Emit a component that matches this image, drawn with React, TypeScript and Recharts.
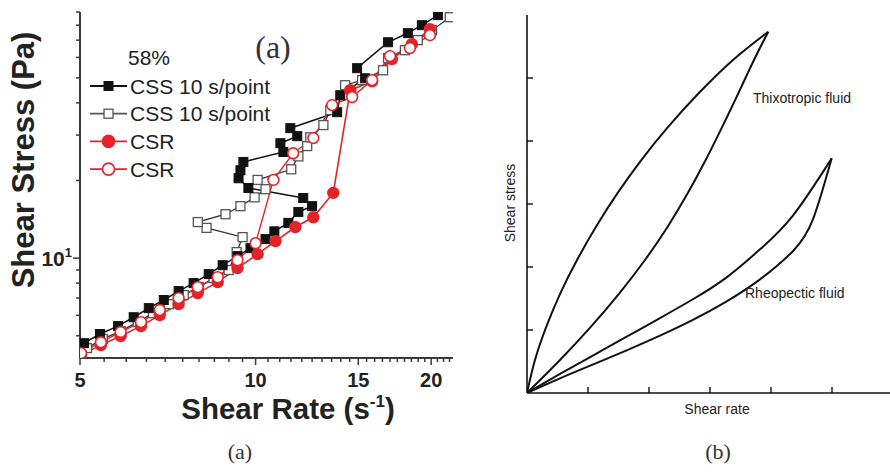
import React from "react";
import { LineChart, Line, XAxis, YAxis, Legend } from "recharts";

const SANS = "'Liberation Sans', Arial, Helvetica, sans-serif";
const SERIF = "'Liberation Serif', 'Times New Roman', serif";
const RED = "#e3232a";
const INK = "#222";
const FRAME = "#3a3a3a";

// ---- panel (a): shear stress vs shear rate, log-log ----
const cssFilledRate = [5.08, 5.41, 5.81, 6.18, 6.56, 6.96, 7.38, 7.83, 8.31, 8.78, 9.31, 9.8, 10.4, 10.77, 11.38, 11.84, 12.5, 12.07, 9.72, 9.35, 9.42, 9.53, 11.16, 11.03, 11.79, 11.47, 13.8, 13.97, 15.41, 14.93, 16.87, 18.24, 19.28, 20.55];
const cssFilledStress = [4.68, 5.08, 5.45, 5.9, 6.4, 6.88, 7.45, 8.0, 8.67, 9.39, 10.18, 10.93, 11.85, 12.7, 13.7, 15.1, 15.9, 17.1, 18.7, 20.4, 21.9, 23.6, 25.8, 27.9, 29.7, 31.9, 36.8, 42.8, 49.8, 54.5, 68.7, 74.5, 80.0, 87.5];

const cssOpenRate = [5.14, 5.47, 5.87, 6.28, 6.67, 7.1, 7.53, 7.99, 8.47, 8.99, 9.28, 9.5, 8.24, 7.96, 8.88, 9.42, 9.96, 10.4, 10.08, 11.51, 11.84, 12.26, 12.41, 13.07, 13.43, 14.24, 15.23, 16.54, 16.87, 18.03, 18.97, 20.07, 21.53];
const cssOpenStress = [4.48, 4.86, 5.21, 5.65, 6.12, 6.63, 7.19, 7.72, 8.37, 8.99, 10.55, 12.06, 13.1, 13.8, 14.8, 15.9, 17.2, 18.5, 20.1, 22.1, 24.8, 27.2, 29.4, 32.8, 37.5, 46.8, 49.0, 53.5, 59.6, 64.0, 70.0, 76.5, 85.9];

const csrFilledRate = [5.02, 5.43, 5.87, 6.36, 6.85, 7.38, 7.96, 8.61, 9.31, 10.08, 10.82, 11.7, 12.56, 13.59, 14.53, 15.84, 17.13, 18.53, 19.9];
const csrFilledStress = [4.21, 4.6, 4.99, 5.45, 6.01, 6.63, 7.32, 8.07, 9.15, 10.36, 11.64, 13.2, 14.4, 17.9, 44.8, 48.5, 59.1, 67.5, 77.2];

const csrOpenRate = [5.02, 5.43, 5.87, 6.36, 6.85, 7.38, 7.96, 8.61, 9.31, 10.0, 10.73, 11.6, 12.56, 13.53, 14.64, 15.84, 17.0, 18.39, 19.9];
const csrOpenStress = [4.28, 4.72, 5.17, 5.65, 6.29, 7.0, 7.72, 8.44, 9.82, 11.43, 20.1, 25.5, 29.2, 39.2, 42.1, 49.0, 60.7, 65.2, 73.2];

const rateTicks = [5, 5.5, 6, 6.5, 7, 7.5, 8, 8.5, 9, 9.5, 10, 10.5, 11, 11.5, 12, 12.5, 13, 13.5, 14, 14.5, 15, 15.5, 16, 16.5, 17, 17.5, 18, 18.5, 19, 19.5, 20, 20.5, 21, 21.5];
const rateLabels = [5, 10, 15, 20];
const stressTicks = [5, 6, 7, 8, 9, 10, 20, 30, 40, 50, 60, 70, 80, 90];

const legendTitle = "58%";
const legendRows = [
  { label: "CSS 10 s/point", shape: "square", filled: true },
  { label: "CSS 10 s/point", shape: "square", filled: false },
  { label: "CSR", shape: "circle", filled: true },
  { label: "CSR", shape: "circle", filled: false },
];

// ---- panel (b): schematic hysteresis loops (arbitrary units) ----
const thixoUpX = [0, 0.131, 0.317, 0.546, 0.82, 1.131, 1.481, 1.874, 2.317, 2.814, 3.377, 3.956];
const thixoUpY = [0, 0.524, 1.053, 1.582, 2.111, 2.64, 3.169, 3.698, 4.228, 4.757, 5.286, 5.735];
const thixoDownX = [0, 0.541, 1.049, 1.514, 1.934, 2.306, 2.634, 2.929, 3.202, 3.464, 3.721, 3.956];
const thixoDownY = [0, 0.524, 1.053, 1.582, 2.111, 2.64, 3.169, 3.698, 4.228, 4.757, 5.286, 5.735];
const rheoUpX = [0, 0.541, 1.087, 1.634, 2.18, 2.727, 3.273, 3.82, 4.366, 4.995];
const rheoUpY = [0, 0.302, 0.598, 0.894, 1.19, 1.492, 1.836, 2.28, 2.825, 3.725];
const rheoDownX = [0, 0.541, 1.087, 1.634, 2.18, 2.727, 3.273, 3.82, 4.366, 4.694, 4.995];
const rheoDownY = [0, 0.233, 0.455, 0.677, 0.91, 1.164, 1.455, 1.804, 2.259, 2.772, 3.725];
const schematicTicks = [1, 2, 3, 4, 5];

const pairs = (xs: number[], ys: number[]) => xs.map((x, i) => ({ x, y: ys[i] }));

function Marker({ cx, cy, shape, filled, size = 9 }: any) {
  if (cx == null || cy == null) return null;
  if (shape === "square") {
    return (
      <rect x={cx - size / 2} y={cy - size / 2} width={size} height={size}
        fill={filled ? "#111" : "#fff"} stroke={filled ? "#111" : "#555"} strokeWidth={filled ? 1 : 1.3} />
    );
  }
  const r = size * 0.6;
  return <circle cx={cx} cy={cy} r={r} fill={filled ? RED : "#fff"} stroke={RED} strokeWidth={1.6} />;
}

const dotOf = (shape: string, filled: boolean) => (p: any) =>
  <Marker key={`m-${p.index}`} cx={p.cx} cy={p.cy} shape={shape} filled={filled} />;

function RateTick({ x, y, payload }: any) {
  const v = payload.value;
  const major = rateLabels.includes(v);
  return (
    <g>
      <line x1={x} x2={x} y1={y} y2={y + (major ? 7 : 4)} stroke={FRAME} strokeWidth={1.5} />
      {major && (
        <text x={x} y={y + 29} textAnchor="middle" fontFamily={SANS} fontWeight="bold" fontSize={20} fill={INK}>{v}</text>
      )}
    </g>
  );
}

function StressTick({ x, y, payload }: any) {
  const v = payload.value;
  const major = v === 10;
  return (
    <g>
      <line x1={x} x2={x - (major ? 7 : 4)} y1={y} y2={y} stroke={FRAME} strokeWidth={1.5} />
      {major && (
        <text x={x - 8} y={y + 8} textAnchor="end" fontFamily={SANS} fontWeight="bold" fontSize={21} fill={INK}>
          10<tspan dy={-9} fontSize={13}>1</tspan>
        </text>
      )}
    </g>
  );
}

function LegendBox() {
  return (
    <svg width={240} height={160} style={{ overflow: "visible" }}>
      <text x={187} y={30} textAnchor="middle" fontFamily={SERIF} fontSize={32} fill="#333">(a)</text>
      <text x={42} y={37} fontFamily={SANS} fontSize={21} fill={INK}>{legendTitle}</text>
      {legendRows.map((r, i) => {
        const cy = 58 + i * 27.7;
        const color = r.shape === "square" ? (r.filled ? "#111" : "#555") : RED;
        return (
          <g key={i}>
            <line x1={4} x2={41} y1={cy} y2={cy} stroke={color} strokeWidth={1.8} />
            <Marker cx={22.5} cy={cy} shape={r.shape} filled={r.filled} size={r.shape === "square" ? 9 : 10} />
            <text x={44} y={cy + 7.5} fontFamily={SANS} fontSize={21} fill={INK}>{r.label}</text>
          </g>
        );
      })}
    </svg>
  );
}

function InTickX({ x, y }: any) {
  return <line x1={x} x2={x} y1={y} y2={y - 6} stroke="#111" strokeWidth={1.4} />;
}

function InTickY({ x, y }: any) {
  return <line x1={x} x2={x + 6} y1={y} y2={y} stroke="#111" strokeWidth={1.4} />;
}

export default function App() {
  return (
    <div style={{ position: "absolute", left: 0, top: 0, width: 890, height: 472, overflow: "hidden", background: "#fff" }}>
      <div style={{ position: "absolute", left: 0, top: 0 }}>
        <LineChart width={460} height={432} margin={{ top: 12, right: 7, left: 30, bottom: 34 }}>
          <XAxis dataKey="x" type="number" scale="log" domain={[5, 21.8]} allowDataOverflow ticks={rateTicks}
            interval={0} tickSize={0} tickMargin={0} tickLine={false} tick={RateTick} height={40}
            axisLine={{ stroke: FRAME, strokeWidth: 2 }}
            label={() => (
              <text x={288} y={419} textAnchor="middle" fontFamily={SANS} fontWeight="bold" fontSize={29.5} fill={INK}>
                Shear Rate (s<tspan dy={-12} fontSize={17}>-1</tspan><tspan dy={12}>)</tspan>
              </text>
            )} />
          <XAxis xAxisId="top" orientation="top" type="number" domain={[0, 1]} height={0} tick={false} tickLine={false}
            axisLine={{ stroke: FRAME, strokeWidth: 2 }} />
          <YAxis dataKey="y" type="number" scale="log" domain={[4.1, 90]} allowDataOverflow ticks={stressTicks}
            interval={0} tickSize={0} tickMargin={0} tickLine={false} tick={StressTick} width={50}
            axisLine={{ stroke: FRAME, strokeWidth: 2 }}
            label={() => (
              <text x={34} y={160} transform="rotate(-90 34 160)" textAnchor="middle" fontFamily={SANS}
                fontWeight="bold" fontSize={31} fill={INK}>Shear Stress (Pa)</text>
            )} />
          <YAxis yAxisId="right" orientation="right" type="number" domain={[0, 1]} width={0} tick={false} tickLine={false}
            axisLine={{ stroke: FRAME, strokeWidth: 2 }} />
          <Legend layout="vertical" align="center" verticalAlign="middle"
            wrapperStyle={{ left: 86, top: 28, width: 240, height: 160 }} content={() => <LegendBox />} />
          <Line data={pairs(cssOpenRate, cssOpenStress)} dataKey="y" type="linear" stroke="#333" strokeWidth={1.3}
            dot={dotOf("square", false)} activeDot={false} isAnimationActive={false} />
          <Line data={pairs(cssFilledRate, cssFilledStress)} dataKey="y" type="linear" stroke="#111" strokeWidth={1.5}
            dot={dotOf("square", true)} activeDot={false} isAnimationActive={false} />
          <Line data={pairs(csrFilledRate, csrFilledStress)} dataKey="y" type="linear" stroke={RED} strokeWidth={1.6}
            dot={dotOf("circle", true)} activeDot={false} isAnimationActive={false} />
          <Line data={pairs(csrOpenRate, csrOpenStress)} dataKey="y" type="linear" stroke={RED} strokeWidth={1.4}
            dot={dotOf("circle", false)} activeDot={false} isAnimationActive={false} />
        </LineChart>
      </div>

      <div style={{ position: "absolute", left: 477, top: 0 }}>
        <LineChart width={420} height={430} margin={{ top: 15, right: 4, left: 20, bottom: 7 }}>
          <XAxis dataKey="x" type="number" domain={[0, 6]} allowDataOverflow ticks={schematicTicks} interval={0}
            tickSize={0} tickMargin={0} tickLine={false} tick={InTickX} height={30}
            axisLine={{ stroke: "#111", strokeWidth: 1.6 }}
            label={() => (
              <text x={240} y={414} textAnchor="middle" fontFamily={SANS} fontSize={14} fill={INK}>Shear rate</text>
            )} />
          <XAxis xAxisId="top" orientation="top" type="number" domain={[0, 1]} height={0} tick={false} tickLine={false}
            axisLine={{ stroke: "#111", strokeWidth: 1.6 }} />
          <YAxis dataKey="y" type="number" domain={[0, 6]} allowDataOverflow ticks={schematicTicks} interval={0}
            tickSize={0} tickMargin={0} tickLine={false} tick={InTickY} width={30}
            axisLine={{ stroke: "#111", strokeWidth: 1.6 }}
            label={() => (
              <text x={38} y={203} transform="rotate(-90 38 203)" textAnchor="middle" fontFamily={SANS} fontSize={14}
                fill={INK}>Shear stress</text>
            )} />
          <Line data={pairs(thixoUpX, thixoUpY)} dataKey="y" type="natural" stroke="#111" strokeWidth={2}
            dot={false} activeDot={false} isAnimationActive={false} />
          <Line data={pairs(thixoDownX, thixoDownY)} dataKey="y" type="natural" stroke="#111" strokeWidth={2}
            dot={false} activeDot={false} isAnimationActive={false} />
          <Line data={pairs(rheoUpX, rheoUpY)} dataKey="y" type="natural" stroke="#111" strokeWidth={2}
            dot={false} activeDot={false} isAnimationActive={false} />
          <Line data={pairs(rheoDownX, rheoDownY)} dataKey="y" type="natural" stroke="#111" strokeWidth={2}
            dot={false} activeDot={false} isAnimationActive={false} />
        </LineChart>
      </div>

      <svg width={890} height={472} style={{ position: "absolute", left: 0, top: 0, pointerEvents: "none" }}>
        <text x={753} y={103} fontFamily={SANS} fontSize={14} fill={INK}>Thixotropic fluid</text>
        <text x={745} y={298} fontFamily={SANS} fontSize={14} fill={INK}>Rheopectic fluid</text>
        <text x={240} y={459} textAnchor="middle" fontFamily={SERIF} fontSize={22} fill="#333">(a)</text>
        <text x={718} y={459} textAnchor="middle" fontFamily={SERIF} fontSize={22} fill="#333">(b)</text>
      </svg>
    </div>
  );
}
